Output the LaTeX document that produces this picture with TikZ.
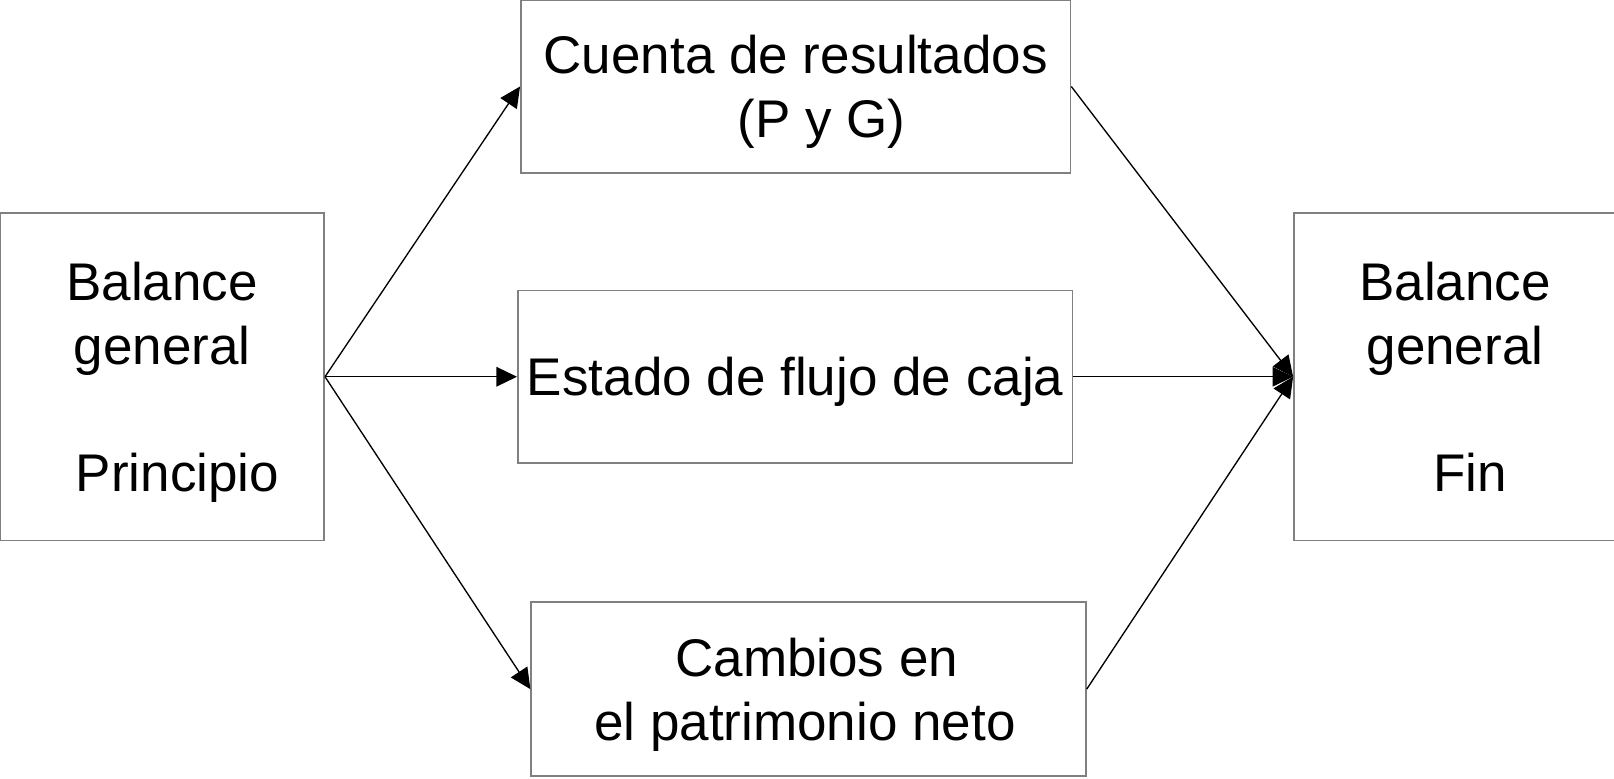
\documentclass[tikz,border=0pt]{standalone}
\usepackage{fontspec}
\setmainfont{Liberation Sans}
\usetikzlibrary{arrows.meta}
\begin{document}
\begin{tikzpicture}[x=0.5pt,y=-0.5pt,
  box/.style={draw=black!50, line width=0.75pt, rectangle, inner sep=0pt, align=center,
    text depth=0pt, font=\fontsize{25.75pt}{31pt}\selectfont},
  conn/.style={draw=black, line width=0.65pt, -{Triangle[length=10pt,width=9.5pt]}}]
\useasboundingbox (0,0) rectangle (1568,756);
\node[box, minimum width=157.5pt, minimum height=159pt] (ini) at (157.5,366)
  {Balance\\general\\[31pt]\hspace*{15pt}Principio};
\node[box, minimum width=267pt, minimum height=84pt] (pyg) at (773,84)
  {Cuenta de resultados\\\hspace*{25pt}(P y G)};
\node[box, minimum width=269.5pt, minimum height=84pt] (flujo) at (772.5,366)
  {Estado de flujo de caja};
\node[box, minimum width=269.5pt, minimum height=84.5pt] (pat) at (785.5,669.5)
  {\hspace*{8pt}Cambios en\\el patrimonio neto\hspace*{3.5pt}};
\node[box, minimum width=156.5pt, minimum height=159pt] (fin) at (1413.5,366)
  {Balance\\general\\[31pt]\hspace*{14.5pt}Fin};
\draw[conn] (ini.east) -- (pyg.west);
\draw[conn] (ini.east) -- (flujo.west);
\draw[conn] (ini.east) -- (pat.west);
\draw[conn] (pyg.east) -- (fin.west);
\draw[conn] (flujo.east) -- (fin.west);
\draw[conn] (pat.east) -- (fin.west);
\end{tikzpicture}
\end{document}
